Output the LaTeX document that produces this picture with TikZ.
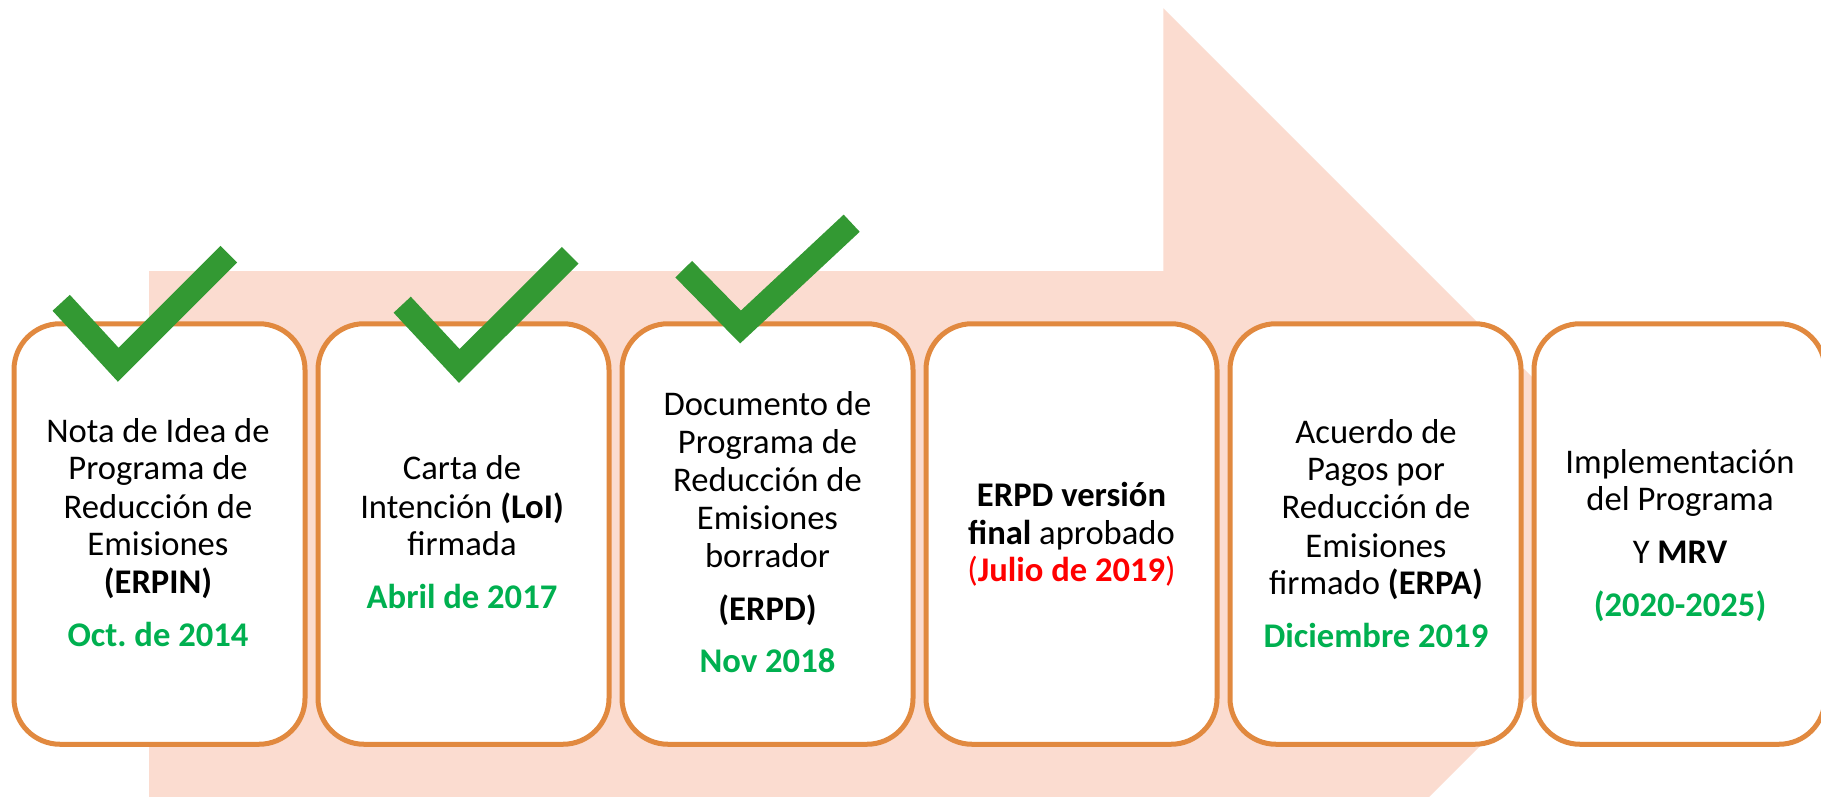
\documentclass[tikz,border=0pt]{standalone}
\usepackage{fontspec}
\setmainfont{Carlito}
\frenchspacing
\definecolor{arrowpink}{HTML}{FBDCD0}
\definecolor{boxorange}{HTML}{E1893F}
\definecolor{checkgreen}{HTML}{339933}
\definecolor{dategreen}{HTML}{00B050}
\definecolor{datered}{HTML}{FF0000}
\tikzset{
  stagebox/.style={draw=boxorange, fill=white, line width=5pt, rounded corners=46pt,
    minimum width=291pt, minimum height=420.5pt, inner sep=0pt},
  checkmark/.style={draw=checkgreen, line width=23.5pt, line join=miter, line cap=butt},
  txt/.style={anchor=base, inner sep=0pt, font=\fontsize{34.6}{38}\selectfont},
  datetxt/.style={txt, text=dategreen, font=\fontsize{34.6}{38}\selectfont\bfseries},
}
\begin{document}
\begin{tikzpicture}[x=1pt,y=-1pt]
\clip (0,0) rectangle (1821,796);
\fill[white] (0,0) rectangle (1821,796);
% big arrow
\coordinate (a1) at (149,271);
\coordinate (a2) at (1163.3,271);
\coordinate (a3) at (1163.3,8.3);
\coordinate (a4) at (1690.5,535.5);
\coordinate (a5) at (1163.3,1062.7);
\coordinate (a6) at (1163.3,800);
\coordinate (a7) at (149,800);
\fill[arrowpink] (a1) -- (a2) -- (a3) -- (a4) -- (a5) -- (a6) -- (a7) -- cycle;
% boxes
\node[stagebox] (b1) at (159.5,534) {};
\node[stagebox] (b2) at (463.5,534) {};
\node[stagebox] (b3) at (767.5,534) {};
\node[stagebox] (b4) at (1071.5,534) {};
\node[stagebox] (b5) at (1375.5,534) {};
\node[stagebox] (b6) at (1679.5,534) {};
% check marks
\draw[checkmark] (61.2,302.8) -- (118.3,364.8) -- (228.8,254.2);
\draw[checkmark] (402.2,304.7) -- (459.3,366) -- (570.2,255.3);
\draw[checkmark] (683.7,269.2) -- (740.5,327) -- (851.7,223.2);
% box 1
\node[txt] (t1a) at (158,442) {Nota de Idea de};
\node[txt] (t1b) at (158,479) {Programa de};
\node[txt] (t1c) at (158,518) {Reducción de};
\node[txt] (t1d) at (158,555) {Emisiones};
\node[txt] (t1e) at (158,593) {\textbf{(ERPIN)}};
\node[datetxt] (t1f) at (158,646) {Oct.\ de 2014};
% box 2
\node[txt] (t2a) at (462,479) {Carta de};
\node[txt] (t2b) at (462,518) {Intención \textbf{(LoI)}};
\node[txt] (t2c) at (462,555) {firmada};
\node[datetxt] (t2d) at (462,608) {Abril de 2017};
% box 3
\node[txt] (t3a) at (767.5,415) {Documento de};
\node[txt] (t3b) at (767.5,453) {Programa de};
\node[txt] (t3c) at (767.5,491) {Reducción de};
\node[txt] (t3d) at (767.5,529) {Emisiones};
\node[txt] (t3e) at (767.5,567) {borrador};
\node[txt] (t3f) at (767.5,620) {\textbf{(ERPD)}};
\node[datetxt] (t3g) at (767.5,672.6) {Nov 2018};
% box 4
\node[txt] (t4a) at (1071.5,506) {\textbf{ERPD versión}};
\node[txt] (t4b) at (1071.5,544) {\textbf{final} aprobado};
\node[txt, text=datered] (t4c) at (1071.5,581) {(\textbf{Julio de 2019})};
% box 5
\node[txt] (t5a) at (1376,443) {Acuerdo de};
\node[txt] (t5b) at (1376,480) {Pagos por};
\node[txt] (t5c) at (1376,518.8) {Reducción de};
\node[txt] (t5d) at (1376,557) {Emisiones};
\node[txt] (t5e) at (1376,594) {firmado \textbf{(ERPA)}};
\node[datetxt] (t5f) at (1376,647.2) {Diciembre 2019};
% box 6
\node[txt] (t6a) at (1680,473) {Implementación};
\node[txt] (t6b) at (1680,510) {del Programa};
\node[txt] (t6c) at (1680,563.5) {Y \textbf{MRV}};
\node[datetxt] (t6d) at (1680,616.8) {(2020-2025)};
\end{tikzpicture}
\end{document}
